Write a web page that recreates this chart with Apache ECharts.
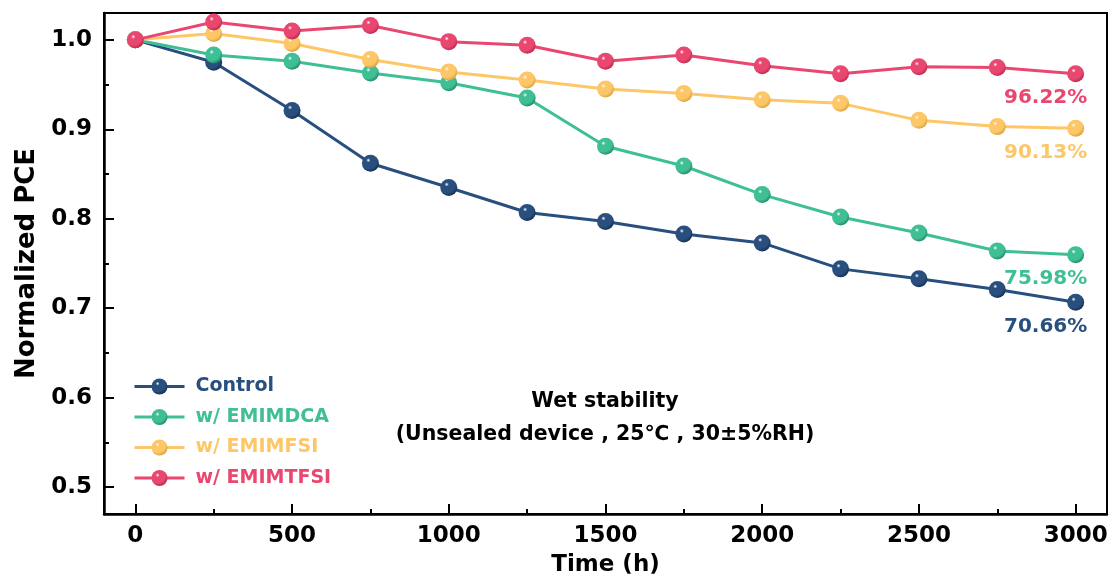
<!DOCTYPE html>
<html>
<head>
<meta charset="utf-8">
<title>Wet stability</title>
<script src="https://cdn.jsdelivr.net/npm/echarts@6/dist/echarts.min.js"></script>
<style>
  html, body { margin: 0; padding: 0; background: #fff; }
  #chart { width: 1115px; height: 583px; }
</style>
</head>
<body>
<div id="chart"></div>
<script>
// Aging time (h)
const times = [0, 250, 500, 750, 1000, 1250, 1500, 1750, 2000, 2250, 2500, 2750, 3000];

// Normalized PCE for each device type
const control  = [1.000, 0.975, 0.921, 0.862, 0.835, 0.807, 0.797, 0.783, 0.773, 0.744, 0.733, 0.721, 0.7066];
const emimdca  = [1.000, 0.983, 0.976, 0.963, 0.952, 0.935, 0.881, 0.859, 0.827, 0.802, 0.784, 0.764, 0.7598];
const emimfsi  = [1.000, 1.007, 0.996, 0.978, 0.964, 0.955, 0.945, 0.940, 0.933, 0.929, 0.910, 0.903, 0.9013];
const emimtfsi = [1.000, 1.020, 1.010, 1.016, 0.998, 0.994, 0.976, 0.983, 0.971, 0.962, 0.970, 0.969, 0.9622];

const seriesNames = ['Control', 'w/ EMIMDCA', 'w/ EMIMFSI', 'w/ EMIMTFSI'];
const seriesColors = ['#284f7e', '#3fbf95', '#fdc767', '#e9476f'];
const seriesShades = ['#16304f', '#238a67', '#d9a23e', '#b92b50'];

// Tick positions
const xMajorTicks = [0, 500, 1000, 1500, 2000, 2500, 3000];
const xMinorTicks = [250, 750, 1250, 1750, 2250, 2750];
const yMajorTicks = [0.5, 0.6, 0.7, 0.8, 0.9, 1.0];
const yMinorTicks = [0.55, 0.65, 0.75, 0.85, 0.95];

const FONT = 'DejaVu Sans';

// Glossy ball fill for the markers
function sphere(color, shade) {
  return {
    type: 'radial', x: 0.38, y: 0.32, r: 0.7,
    colorStops: [
      { offset: 0, color: '#ffffff' },
      { offset: 0.18, color: color },
      { offset: 0.7, color: color },
      { offset: 1, color: shade }
    ]
  };
}

const datasets = [control, emimdca, emimfsi, emimtfsi];

const series = datasets.map((vals, i) => {
  const data = vals.map((v, j) => {
    const pt = [times[j], v];
    if (j === vals.length - 1) {
      return {
        value: pt,
        label: {
          show: true,
          position: 'bottom',
          distance: 6,
          offset: [-30, 0],
          formatter: (p) => (p.value[1] * 100).toFixed(2) + '%',
          color: seriesColors[i],
          fontFamily: FONT,
          fontWeight: 'bold',
          fontSize: 20
        }
      };
    }
    return pt;
  });
  return {
    name: seriesNames[i],
    type: 'line',
    xAxisIndex: 0,
    yAxisIndex: 0,
    data: data,
    symbol: 'circle',
    symbolSize: 17,
    lineStyle: { color: seriesColors[i], width: 3 },
    itemStyle: { color: sphere(seriesColors[i], seriesShades[i]) },
    emphasis: { disabled: true },
    animation: false,
    z: 2 + i
  };
});

const chart = echarts.init(document.getElementById('chart'), null, { renderer: 'canvas' });

chart.setOption({
  backgroundColor: '#ffffff',
  animation: false,
  grid: {
    left: 104, right: 8, top: 13, bottom: 69,
    show: true, borderColor: '#000', borderWidth: 2, backgroundColor: 'transparent'
  },
  legend: {
    orient: 'vertical',
    left: 128, top: 372,
    itemWidth: 50, itemHeight: 20, itemGap: 11.5,
    lineStyle: { width: 3 },
    data: seriesNames.map((n, i) => ({
      name: n,
      textStyle: { color: seriesColors[i] }
    })),
    textStyle: {
      fontFamily: FONT, fontWeight: 'bold', fontSize: 19,
      padding: [0, 0, 0, 6]
    }
  },
  graphic: [
    {
      type: 'text',
      style: {
        text: 'Wet stability\n(Unsealed device , 25\u2103 , 30\u00b15%RH)',
        x: 605, y: 385,
        textAlign: 'center',
        fill: '#000',
        font: 'bold 20.5px "' + FONT + '"',
        lineHeight: 33
      }
    }
  ],
  xAxis: [
    {
      type: 'value', min: -100, max: 3100, position: 'bottom',
      name: 'Time (h)', nameLocation: 'middle', nameGap: 40,
      nameTextStyle: { fontFamily: FONT, fontWeight: 'bold', fontSize: 23, color: '#000' },
      axisLine: { show: true, onZero: false, lineStyle: { color: '#000', width: 2.5 } },
      axisTick: { show: true, inside: true, length: 10, customValues: xMajorTicks, lineStyle: { color: '#000', width: 2 } },
      axisLabel: {
        customValues: xMajorTicks, margin: 11,
        formatter: (v) => String(v),
        fontFamily: FONT, fontWeight: 'bold', fontSize: 23, color: '#000'
      },
      splitLine: { show: false }
    },
    {
      type: 'value', min: -100, max: 3100, position: 'bottom',
      axisLine: { show: false, onZero: false },
      axisTick: { show: true, inside: true, length: 5, customValues: xMinorTicks, lineStyle: { color: '#000', width: 2 } },
      axisLabel: { show: false },
      splitLine: { show: false }
    }
  ],
  yAxis: [
    {
      type: 'value', min: 0.47, max: 1.03, position: 'left',
      name: 'Normalized PCE', nameLocation: 'middle', nameGap: 62,
      nameTextStyle: { fontFamily: FONT, fontWeight: 'bold', fontSize: 26, color: '#000' },
      axisLine: { show: true, onZero: false, lineStyle: { color: '#000', width: 2.5 } },
      axisTick: { show: true, inside: true, length: 10, customValues: yMajorTicks, lineStyle: { color: '#000', width: 2 } },
      axisLabel: {
        customValues: yMajorTicks, margin: 12,
        formatter: (v) => v.toFixed(1),
        fontFamily: FONT, fontWeight: 'bold', fontSize: 23, color: '#000'
      },
      splitLine: { show: false }
    },
    {
      type: 'value', min: 0.47, max: 1.03, position: 'left',
      axisLine: { show: false, onZero: false },
      axisTick: { show: true, inside: true, length: 5, customValues: yMinorTicks, lineStyle: { color: '#000', width: 2 } },
      axisLabel: { show: false },
      splitLine: { show: false }
    }
  ],
  series: series
});
</script>
</body>
</html>
